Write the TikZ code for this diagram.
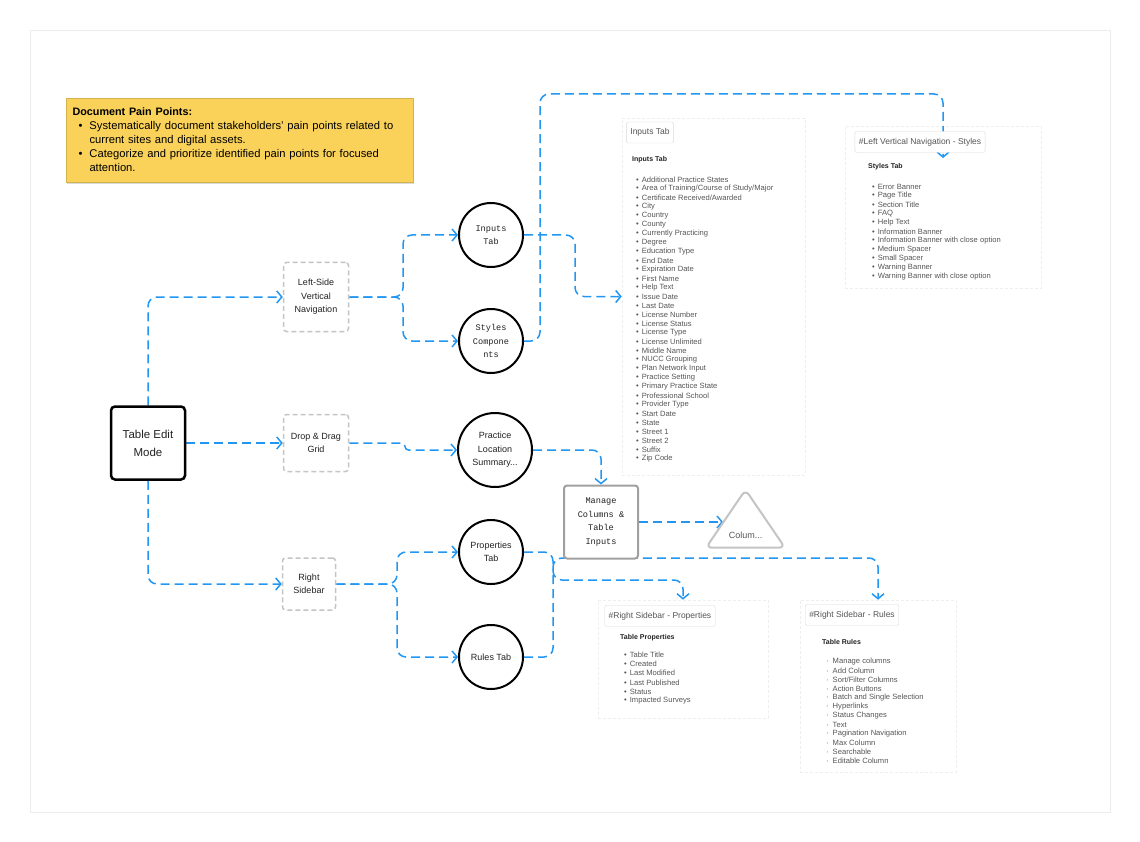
\documentclass[tikz,border=0pt]{standalone}
\usepackage{fontspec}
\setmainfont{Liberation Sans}
\newfontfamily\monof{Liberation Mono}
\usetikzlibrary{arrows.meta,shapes.geometric,backgrounds,shadows}
\definecolor{blau}{HTML}{2196F3}
\definecolor{gelb}{HTML}{FAD25A}
\definecolor{hgrau}{HTML}{C4C4C4}
\definecolor{mgrau}{HTML}{A0A0A0}
\definecolor{dgrau}{HTML}{555555}
\definecolor{schw}{HTML}{222222}
\tikzset{
  conn/.style={-{Straight Barb[length=5pt,width=12pt]},blau,line width=1.5pt,dash pattern=on 9pt off 5pt,rounded corners=9pt},
  notiz/.style={fill=gelb,draw=gelb!85!black,line width=0.3pt,minimum width=347pt,minimum height=84pt,text width=334pt,align=left,font=\fontsize{11.2}{14}\selectfont,drop shadow={opacity=0.3,shadow xshift=0.5pt,shadow yshift=-2.5pt}},
  haupt/.style={draw=black,line width=2.5pt,rounded corners=4pt,fill=white,minimum width=74pt,minimum height=73pt,align=center,font=\fontsize{11.5}{18}\selectfont,text=schw},
  gbox/.style={draw=hgrau,line width=1.5pt,dash pattern=on 5pt off 3pt,rounded corners=3pt,fill=white,align=center,font=\fontsize{9}{13.5}\selectfont,text=schw},
  kreis/.style={circle,draw=black,line width=2pt,fill=white,minimum size=64pt,inner sep=0pt,align=center,font=\fontsize{9}{13.5}\selectfont,text=schw},
  mono/.style={font=\monof\fontsize{8.6}{13.5}\selectfont},
  mbox/.style={draw=mgrau,line width=2pt,rounded corners=3pt,fill=white,minimum width=74pt,minimum height=73pt,align=center,text=schw,mono},
  dreieck/.style={isosceles triangle,isosceles triangle stretches=true,shape border rotate=90,draw=hgrau,line width=2pt,rounded corners=6pt,fill=white,minimum width=79pt,minimum height=58pt,inner sep=1pt,font=\fontsize{9}{11}\selectfont,text=dgrau},
  karte/.style={draw=gray!13,dash pattern=on 3pt off 2pt,line width=0.6pt,inner sep=0pt},
  kopf/.style={draw=gray!30,fill=white,rounded corners=2pt,minimum height=21pt,inner xsep=4pt,font=\fontsize{8.5}{10}\selectfont,text=dgrau},
  titel/.style={anchor=west,inner sep=0pt,font=\bfseries\fontsize{7}{8}\selectfont,text=schw},
  punkt/.style={anchor=west,inner sep=0pt,font=\fontsize{7.6}{8}\selectfont,text=dgrau},
}
\begin{document}
\begin{tikzpicture}[x=1pt,y=-1pt]
  \useasboundingbox (0,0) rectangle (1140,842);
  \draw[gray!15,line width=0.6pt] (30,30) rectangle (1110,812);

  \node[notiz] (pain) at (239.5,140) {{\fontsize{10.8}{14}\selectfont\textbf{Document Pain Points:}}\\
    \hspace*{6pt}\makebox[11pt][l]{\textbullet}Systematically document stakeholders' pain points related to\\
    \hspace*{17pt}current sites and digital assets.\\
    \hspace*{6pt}\makebox[11pt][l]{\textbullet}Categorize and prioritize identified pain points for focused\\
    \hspace*{17pt}attention.};

  \node[haupt] (tem) at (148,443) {Table Edit\\Mode};
  \node[gbox,minimum width=65pt,minimum height=69pt] (lsvn) at (316,297) {Left-Side\\Vertical\\Navigation};
  \node[gbox,minimum width=65pt,minimum height=57pt] (dd) at (316,443) {Drop \& Drag\\Grid};
  \node[gbox,minimum width=53pt,minimum height=52pt] (rs) at (309,584) {Right\\Sidebar};

  \node[kreis,mono] (inp) at (491,235) {Inputs\\Tab};
  \node[kreis,mono] (sty) at (491,341) {Styles\\Compone\\nts};
  \node[kreis,minimum size=74pt] (prac) at (495,450) {Practice\\Location\\Summary...};
  \node[kreis] (prop) at (491,552) {Properties\\Tab};
  \node[kreis] (rul) at (491,657) {Rules Tab};

  \node[mbox] (mng) at (601,522) {Manage\\Columns \&\\Table\\Inputs};
  \node[dreieck] (col) at (745.5,535) {Colum...};
  \coordinate (colin) at (723,522);
  \coordinate (stin) at (943,158);

  \begin{scope}[on background layer]
    \node[karte,minimum width=183pt,minimum height=357pt] (kinp) at (713.5,296.5) {};
    \node[karte,minimum width=196pt,minimum height=162pt] (ksty) at (943,207) {};
    \node[karte,minimum width=170pt,minimum height=118pt] (kprop) at (683,659) {};
    \node[karte,minimum width=156pt,minimum height=172pt] (krul) at (878,686) {};

    \draw[conn] (tem.north) |- (lsvn.west);
    \draw[conn] (tem.east) -- (dd.west);
    \draw[conn] (tem.south) |- (rs.west);
    \draw[conn] (lsvn.east) -- (403,297) |- (inp.west);
    \draw[conn] (lsvn.east) -- (403,297) |- (sty.west);
    \draw[conn,rounded corners=3.5pt] (dd.east) -- (405,443) -- (405,450) -- (prac.west);
    \draw[conn] (rs.east) -- (397,584) |- (prop.west);
    \draw[conn] (rs.east) -- (397,584) |- (rul.west);
    \draw[conn] (inp.east) -- (575,235) |- (kinp.west);
    \draw[conn] (sty.east) -- (540,341) -- (540,94) -| (stin);
    \draw[conn] (prac.east) -| (mng.north);
    \draw[conn] (mng.east) -- (colin);
    \draw[conn] (prop.east) -- (553,552) -- (553,580) -| (kprop.north);
    \draw[conn] (rul.east) -- (553,657) -- (553,558) -| (krul.north);
  \end{scope}

  \node[kopf] (hinp) at (650,132.5) {Inputs Tab};
  \node[kopf] (hsty) at (920,142) {\#Left Vertical Navigation - Styles};
  \node[kopf] (hprop) at (660,616) {\#Right Sidebar - Properties};
  \node[kopf] (hrul) at (852,615) {\#Right Sidebar - Rules};

  \node[titel] (tinp) at (632,160) {Inputs Tab};
  \node[titel] (tsty) at (868,167) {Styles Tab};
  \node[titel] (tprop) at (620,638) {Table Properties};
  \node[titel] (trul) at (822,642) {Table Rules};

  \foreach \ein [count=\i from 0] in {Additional Practice States,{Area of Training/Course of Study/Major},{Certificate Received/Awarded},City,Country,County,Currently Practicing,Degree,Education Type,End Date,Expiration Date,First Name,Help Text,Issue Date,Last Date,License Number,License Status,License Type,License Unlimited,Middle Name,NUCC Grouping,Plan Network Input,Practice Setting,Primary Practice State,Professional School,Provider Type,Start Date,State,Street 1,Street 2,Suffix,Zip Code}
    \node[punkt] (li-\i) at (636,180+9*\i) {\textbullet\hspace{3pt}\ein};
  \foreach \ein [count=\i from 0] in {Error Banner,Page Title,Section Title,FAQ,Help Text,Information Banner,Information Banner with close option,Medium Spacer,Small Spacer,Warning Banner,Warning Banner with close option}
    \node[punkt] (ls-\i) at (872,187+9*\i) {\textbullet\hspace{3pt}\ein};
  \foreach \ein [count=\i from 0] in {Table Title,Created,Last Modified,Last Published,Status,Impacted Surveys}
    \node[punkt] (lp-\i) at (624,655+9.1*\i) {\textbullet\hspace{3pt}\ein};
  \foreach \ein [count=\i from 0] in {Manage columns,Add Column,{Sort/Filter Columns},Action Buttons,Batch and Single Selection,Hyperlinks,Status Changes,Text,Pagination Navigation,Max Column,Searchable,Editable Column}
    \node[punkt] (lr-\i) at (826,662+9*\i) {\textperiodcentered\hspace{4pt}\ein};
\end{tikzpicture}
\end{document}
